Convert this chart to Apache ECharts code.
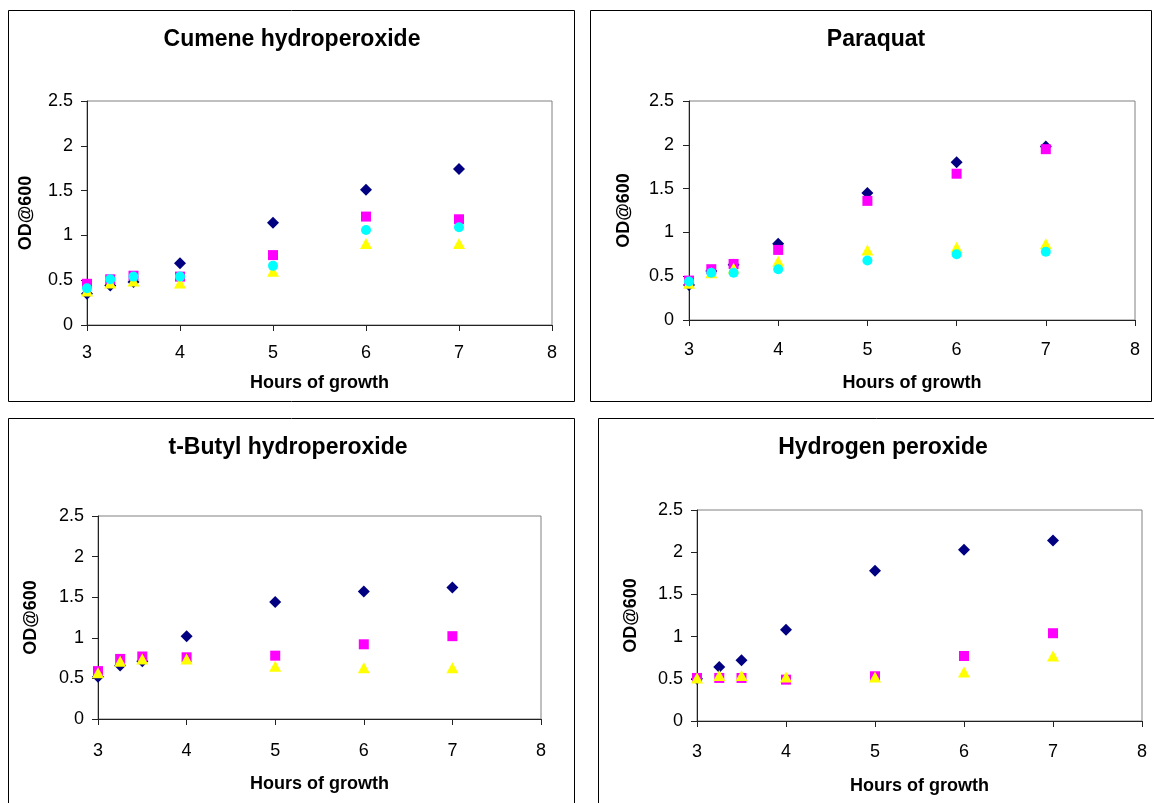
<!DOCTYPE html>
<html>
<head>
<meta charset="utf-8">
<script src="https://cdn.jsdelivr.net/npm/echarts@6/dist/echarts.min.js"></script>
<style>
  html, body { margin: 0; padding: 0; background: #ffffff; }
  #chart { width: 1154px; height: 803px; }
</style>
</head>
<body>
<div id="chart"></div>
<script>
// Sampling times (hours of growth)
const hours = [3, 3.25, 3.5, 4, 5, 6, 7];

// Axis ranges and tick steps
const xMin = 3, xMax = 8, xStep = 1;
const yMin = 0, yMax = 2.5, yStep = 0.5;

// Panel titles and axis names
const panelTitles = ['Cumene hydroperoxide', 'Paraquat', 't-Butyl hydroperoxide', 'Hydrogen peroxide'];
const xName = 'Hours of growth';
const yName = 'OD@600';

// OD600 readings per treatment, four strains (navy, magenta, yellow, cyan)
const cumeneNavy    = [0.35, 0.44, 0.48, 0.69, 1.14, 1.51, 1.74];
const cumeneMagenta = [0.46, 0.51, 0.55, 0.54, 0.78, 1.21, 1.18];
const cumeneYellow  = [0.38, 0.47, 0.49, 0.47, 0.60, 0.91, 0.91];
const cumeneCyan    = [0.41, 0.51, 0.54, 0.54, 0.66, 1.06, 1.09];

const paraquatNavy    = [0.40, 0.56, 0.63, 0.87, 1.45, 1.80, 1.98];
const paraquatMagenta = [0.45, 0.58, 0.64, 0.80, 1.36, 1.67, 1.95];
const paraquatYellow  = [0.42, 0.54, 0.59, 0.67, 0.80, 0.83, 0.87];
const paraquatCyan    = [0.44, 0.54, 0.54, 0.58, 0.68, 0.75, 0.78];

const butylNavy    = [0.52, 0.66, 0.71, 1.02, 1.44, 1.57, 1.62];
const butylMagenta = [0.59, 0.74, 0.77, 0.76, 0.78, 0.92, 1.02];
const butylYellow  = [0.57, 0.71, 0.74, 0.74, 0.65, 0.63, 0.63];

const h2o2Navy    = [0.50, 0.64, 0.72, 1.08, 1.78, 2.03, 2.14];
const h2o2Magenta = [0.51, 0.51, 0.51, 0.49, 0.53, 0.77, 1.04];
const h2o2Yellow  = [0.51, 0.54, 0.54, 0.52, 0.52, 0.58, 0.77];

const panelSeries = [
  [cumeneNavy, cumeneMagenta, cumeneYellow, cumeneCyan],
  [paraquatNavy, paraquatMagenta, paraquatYellow, paraquatCyan],
  [butylNavy, butylMagenta, butylYellow, null],
  [h2o2Navy, h2o2Magenta, h2o2Yellow, null]
];

// Marker style per strain
const markers = [
  { color: '#000080', symbol: 'diamond',  size: 12 },
  { color: '#FF00FF', symbol: 'rect',     size: 10 },
  { color: '#FFFF00', symbol: 'triangle', size: [12, 11] },
  { color: '#00FFFF', symbol: 'circle',   size: 10 }
];

// Layout of each panel: plot area, frame, text positions and gaps
const layout = [
  { grid: { left: 87, top: 101, width: 465, height: 224 }, frame: [8.5, 10.5, 566, 391], title: [292, 40], yGap: 52, xGap: 49, xMargin: 19, yMargin: 14 },
  { grid: { left: 689, top: 101, width: 446, height: 219 }, frame: [590.5, 10.5, 561, 391], title: [876, 40], yGap: 56, xGap: 54, xMargin: 21, yMargin: 15 },
  { grid: { left: 98, top: 516, width: 443, height: 203 }, frame: [8.5, 418.5, 566, 400], title: [288, 448], yGap: 58, xGap: 56, xMargin: 23, yMargin: 14 },
  { grid: { left: 697, top: 510, width: 445, height: 211 }, frame: [598.5, 418.5, 600, 400], title: [883, 448], yGap: 57, xGap: 56, xMargin: 22, yMargin: 14 }
];

const FONT = '"Liberation Sans", Arial, sans-serif';

const grids = [], xAxes = [], yAxes = [], series = [], graphics = [];

layout.forEach((p, i) => {
  grids.push(Object.assign({ show: true, borderColor: '#808080', borderWidth: 1, backgroundColor: '#ffffff' }, p.grid));
  xAxes.push({
    type: 'value', gridIndex: i, min: xMin, max: xMax, interval: xStep,
    name: xName, nameLocation: 'middle', nameGap: p.xGap,
    nameTextStyle: { fontFamily: FONT, fontWeight: 'bold', fontSize: 18, color: '#000' },
    axisLine: { show: true, onZero: false, lineStyle: { color: '#222', width: 1 } },
    axisTick: { show: true, length: 6, lineStyle: { color: '#222' } },
    axisLabel: { fontFamily: FONT, fontSize: 18, color: '#000', margin: p.xMargin },
    splitLine: { show: false }
  });
  yAxes.push({
    type: 'value', gridIndex: i, min: yMin, max: yMax, interval: yStep,
    name: yName, nameLocation: 'middle', nameGap: p.yGap, nameRotate: 90,
    nameTextStyle: { fontFamily: FONT, fontWeight: 'bold', fontSize: 18, color: '#000' },
    axisLine: { show: true, onZero: false, lineStyle: { color: '#222', width: 1 } },
    axisTick: { show: true, length: 6, lineStyle: { color: '#222' } },
    axisLabel: { fontFamily: FONT, fontSize: 18, color: '#000', margin: p.yMargin },
    splitLine: { show: false }
  });
  panelSeries[i].forEach((vals, k) => {
    if (!vals) return;
    const m = markers[k];
    series.push({
      type: 'scatter', xAxisIndex: i, yAxisIndex: i,
      symbol: m.symbol, symbolSize: m.size,
      itemStyle: { color: m.color, opacity: 1 },
      emphasis: { disabled: true },
      z: 2 + k,
      data: hours.map((h, j) => [h, vals[j]])
    });
  });
  graphics.push({
    type: 'rect', z: -10, silent: true,
    shape: { x: p.frame[0], y: p.frame[1], width: p.frame[2], height: p.frame[3] },
    style: { fill: 'none', stroke: '#000', lineWidth: 1 }
  });
  graphics.push({
    type: 'text', silent: true,
    x: p.title[0], y: p.title[1],
    style: {
      text: panelTitles[i], fill: '#000',
      font: 'bold 23px ' + FONT,
      textAlign: 'center', textVerticalAlign: 'middle'
    }
  });
});

const chart = echarts.init(document.getElementById('chart'), null, { renderer: 'canvas' });
chart.setOption({
  backgroundColor: '#ffffff',
  animation: false,
  grid: grids,
  xAxis: xAxes,
  yAxis: yAxes,
  series: series,
  graphic: graphics
});
</script>
</body>
</html>
